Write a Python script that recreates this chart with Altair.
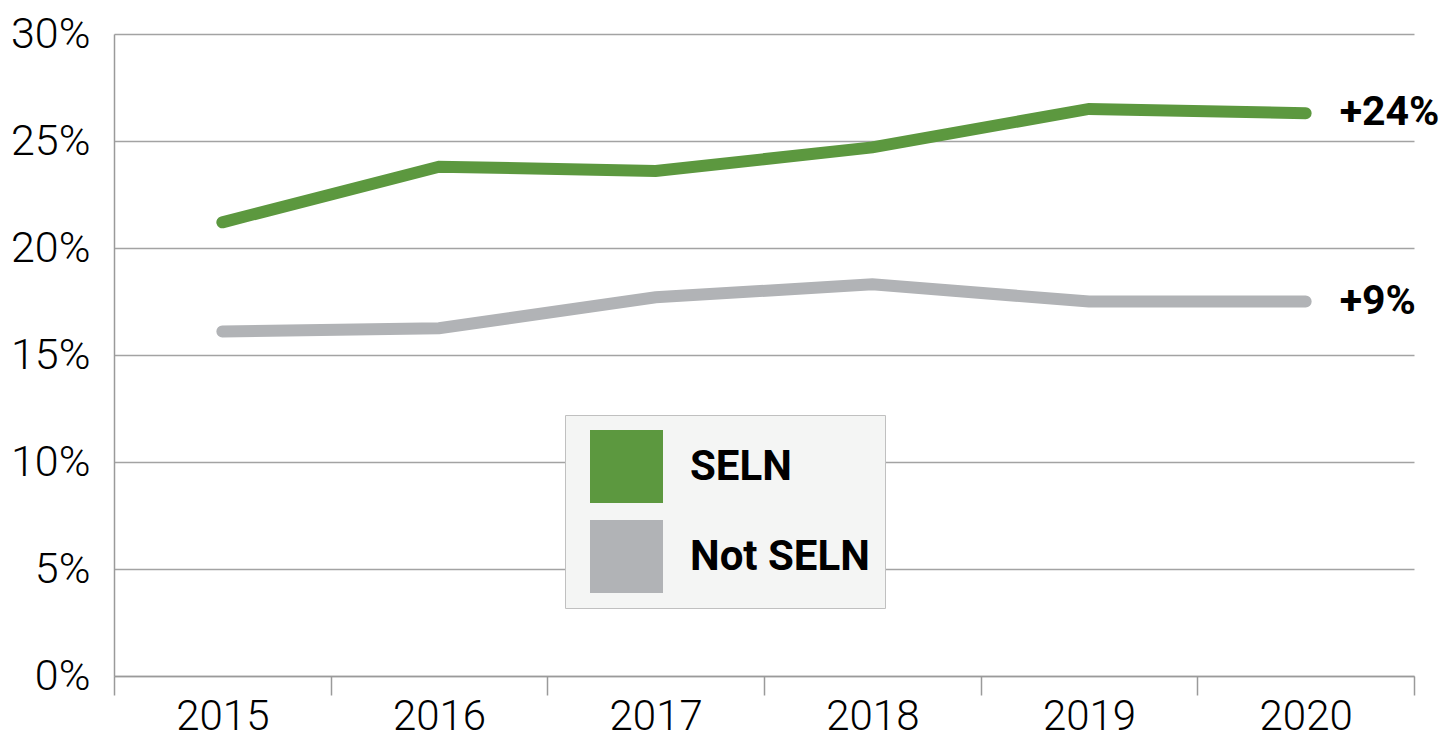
import altair as alt
import pandas as pd

years = ["2015", "2016", "2017", "2018", "2019", "2020"]
seln = [21.2, 23.8, 23.6, 24.7, 26.5, 26.3]
not_seln = [16.1, 16.25, 17.7, 18.3, 17.5, 17.5]
series = ["SELN", "Not SELN"]
end_labels = ["+24%", "+9%"]
colors = ["#5c983f", "#b1b3b6"]
y_ticks = [0, 5, 10, 15, 20, 25, 30]

FONT = "Roboto"

rows = []
for s, vals in zip(series, [seln, not_seln]):
    for yr, v in zip(years, vals):
        rows.append({"year": yr, "value": v, "series": s})
df = pd.DataFrame(rows)

lab_df = pd.DataFrame({
    "year": [years[-1]] * 2,
    "value": [seln[-1], not_seln[-1]],
    "series": series,
    "label": end_labels,
})

x_enc = alt.X(
    "year:N",
    sort=years,
    bandPosition=0.5,
    scale=alt.Scale(type="band", paddingInner=0, paddingOuter=0),
    axis=alt.Axis(
        title=None, tickBand="extent", tickSize=19, labelAngle=0,
        labelPadding=1, labelFontSize=42, labelFont=FONT, labelFontWeight=300,
        grid=False, domainColor="#9a9a9a", tickColor="#9a9a9a",
        domainWidth=1.5, tickWidth=1.5, labelColor="#000000",
    ),
)
y_enc = alt.Y(
    "value:Q",
    scale=alt.Scale(domain=[0, 30], nice=False),
    axis=alt.Axis(
        title=None, values=y_ticks, labelExpr="datum.value + '%'", ticks=False,
        labelPadding=24, labelFontSize=43, labelFont=FONT, labelFontWeight=300,
        grid=True, gridColor="#a3a3a3", gridWidth=1.5,
        domainColor="#9a9a9a", domainWidth=1.5, labelColor="#000000",
    ),
)

color_scale = alt.Scale(domain=series, range=colors)

lines = alt.Chart(df).mark_line(strokeWidth=12, strokeCap="round").encode(
    x=x_enc,
    y=y_enc,
    color=alt.Color("series:N", scale=color_scale, legend=None),
)

# legend-only layer: no rows drawn, the legend comes from the colour scale domain
legend_layer = alt.Chart(df).transform_filter("false").mark_square(filled=True).encode(
    x=alt.X("year:N", sort=years, bandPosition=0.5),
    y="value:Q",
    color=alt.Color(
        "series:N", scale=color_scale,
        legend=alt.Legend(
            title=None, orient="none", legendX=451, legendY=381,
            fillColor="#f4f5f4", strokeColor="#c0c0c0",
            padding=15, symbolType="square", symbolSize=5329, symbolOpacity=1,
            symbolStrokeWidth=0, symbolOffset=10, labelOffset=27, rowPadding=17,
            labelFont=FONT, labelFontSize=42, labelFontWeight="bold",
            labelColor="#000000", labelLimit=0,
        ),
    ),
)

labels = alt.Chart(lab_df).mark_text(
    align="left", baseline="middle", dx=34, fontSize=41, fontWeight="bold",
    font=FONT, color="#000000",
).encode(
    x=alt.X("year:N", sort=years, bandPosition=0.5),
    y="value:Q",
    text="label:N",
)

chart = alt.layer(lines, legend_layer, labels).resolve_legend(
    color="independent"
).properties(
    width=1300, height=642,
    autosize=alt.AutoSizeParams(type="none"),
    padding={"left": 106, "top": 26, "right": 27, "bottom": 62},
).configure_view(stroke=None)

chart.save("out.html", embed_options={"renderer": "svg", "actions": False})
